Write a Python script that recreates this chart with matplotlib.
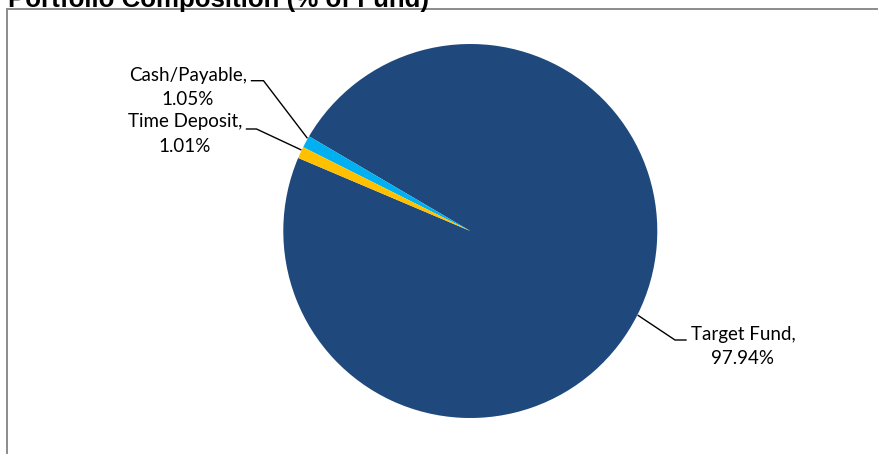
import numpy as np
import matplotlib
matplotlib.use("Agg")
import matplotlib.pyplot as plt

# data
labels = ["Target Fund", "Cash/Payable", "Time Deposit"]
shares = [97.94, 1.05, 1.01]
colors = ["#1F497D", "#00B0F0", "#FFC000"]
title = "Portfolio Composition (% of Fund)"

W, H = 879, 454
def Y(y):
    # pixel row (from top) -> data y (from bottom)
    return H - y

fig = plt.figure(figsize=(W / 100, H / 100), dpi=100)
ax = fig.add_axes([0, 0, 1, 1])
ax.set_xlim(0, W)
ax.set_ylim(0, H)
ax.set_aspect("equal")
ax.axis("off")

cx, cy, r = 470.3, Y(231), 187
wedges, _ = ax.pie(shares, colors=colors, center=(cx, cy), radius=r,
                   startangle=157.0, counterclock=True,
                   wedgeprops=dict(linewidth=0))
ax.set_xlim(0, W)
ax.set_ylim(0, H)

# label layout: (elbow x, elbow y, end x, text center x, text center y, angle shift)
layout = {
    "Target Fund": (675, 340, 686, 743, 346.5, 0.0),
    "Cash/Payable": (263.5, 80.7, 251.5, 188, 87.5, -1.2),
    "Time Deposit": (256.5, 129, 246.5, 185, 134, -0.8),
}
font = ["Lato", "DejaVu Sans"]
for w, lab, val in zip(wedges, labels, shares):
    ex, ey, hx, tx, ty, shift = layout[lab]
    ang = np.deg2rad((w.theta1 + w.theta2) / 2 + shift)
    ax0 = cx + (r + 1) * np.cos(ang)
    ay0 = cy + (r + 1) * np.sin(ang)
    ax.plot([ax0, ex, hx], [ay0, Y(ey), Y(ey)], color="black", lw=1.0,
            solid_joinstyle="miter")
    ax.text(tx, Y(ty), f"{lab},\n{val:.2f}%", ha="center", va="center",
            fontsize=13.5, family=font, color="#000000", linespacing=1.5)

# frame border (left and top only visible)
ax.plot([7.2, 7.2, W], [0, Y(9.3), Y(9.3)], color="#8C8C8C", lw=1.4,
        clip_on=False, solid_joinstyle="miter")

ax.text(8, Y(6.5), title, ha="left", va="baseline", fontsize=18.6,
        fontweight="bold", family="Liberation Sans", color="black")

fig.savefig("out.png", dpi=100)
